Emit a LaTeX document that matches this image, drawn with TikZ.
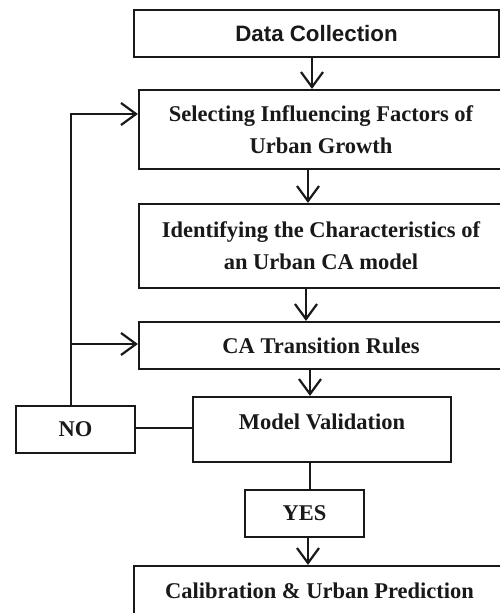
\documentclass[tikz,border=0pt]{standalone}
\usepackage{fontspec}
\setmainfont{Liberation Serif}
\newfontfamily\arialfont{Liberation Sans}
\usetikzlibrary{arrows.meta}
\begin{document}
\begin{tikzpicture}[x=1pt,y=-1pt,
  line width=2.2pt, draw=black!90,
  boxstyle/.style={draw=black!90, line width=2.2pt, rectangle, inner sep=0pt, align=center,
    font=\fontsize{22.5}{32}\selectfont\bfseries, text=black!90},
  arr/.style={-{Straight Barb[length=15pt,width=22pt]}}]
\clip (0,0) rectangle (500,613);
\fill[white] (0,0) rectangle (500,613);
\node[boxstyle, minimum width=365pt, minimum height=47pt, font=\fontsize{22.3}{28}\selectfont\arialfont\bfseries] (b1) at (316.5,33.5) {Data Collection};
\node[boxstyle, minimum width=364pt, minimum height=79pt] (b2) at (321,129.5) {Selecting Influencing Factors of\\Urban Growth};
\node[boxstyle, minimum width=364pt, minimum height=84pt] (b3) at (321,246) {Identifying the Characteristics of\\an Urban CA model};
\node[boxstyle, minimum width=364pt, minimum height=47pt] (b4) at (321,345.5) {CA Transition Rules};
\node[boxstyle, minimum width=258pt, minimum height=65pt, text depth=15pt] (mv) at (322,429.5) {Model Validation};
\node[boxstyle, minimum width=119pt, minimum height=47pt] (no) at (75.5,429.5) {NO};
\node[boxstyle, minimum width=119pt, minimum height=47pt] (yes) at (304.5,513.5) {YES};
\node[boxstyle, minimum width=371pt, minimum height=50pt] (cal) at (319.5,591) {Calibration \& Urban Prediction};
\draw[arr] (b1.south -| 312,0) -- (b2.north -| 312,0);
\draw[arr] (b2.south -| 308,0) -- (b3.north -| 308,0);
\draw[arr] (b3.south -| 306,0) -- (b4.north -| 306,0);
\draw[arr] (b4.south -| 310,0) -- (mv.north -| 310,0);
\draw (mv.south -| 310,0) -- (yes.north -| 310,0);
\draw[arr] (yes.south -| 308,0) -- (cal.north -| 308,0);
\draw (no.east |- 0,428) -- (mv.west |- 0,428);
\draw[arr] (no.north -| 71,0) -- (71,114) -- (b2.west |- 0,114);
\draw[arr] (71,344) -- (b4.west |- 0,344);
\end{tikzpicture}
\end{document}
